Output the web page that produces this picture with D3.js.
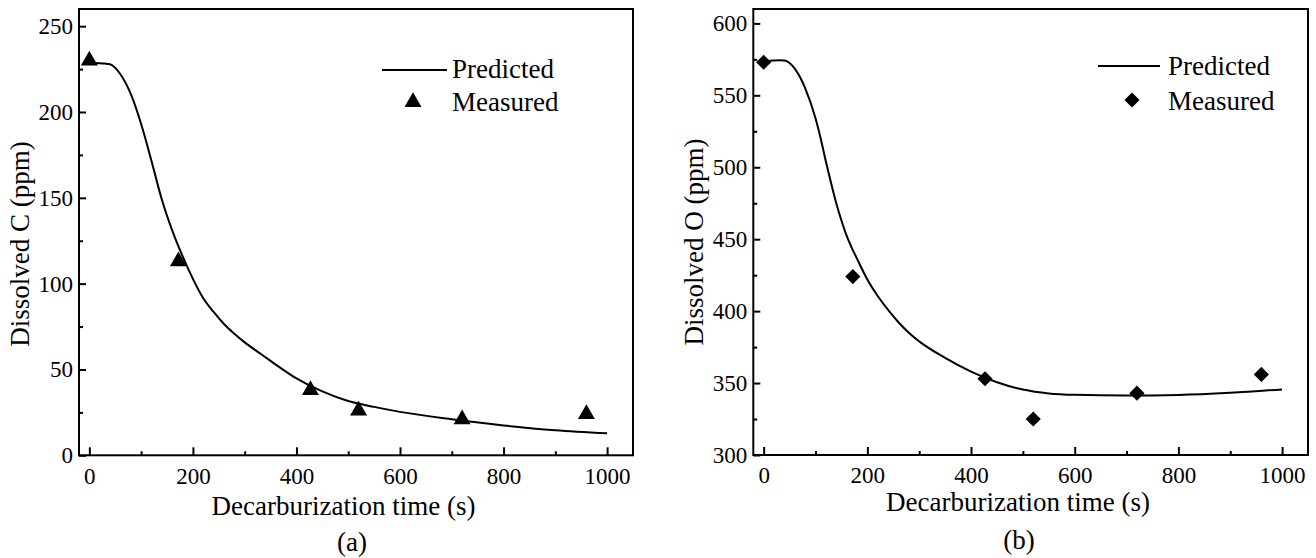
<!DOCTYPE html>
<html><head><meta charset="utf-8">
<script src="https://cdn.jsdelivr.net/npm/d3@7"></script>
<style>
body{margin:0;background:#fff;}
svg{display:block;}
svg text{font-family:"Liberation Serif","Times New Roman",Times,serif;fill:#000;}
</style>
</head><body>
<svg id="chart" width="1316" height="558"></svg>
<script>
// ---------- data ----------
const measuredTimes = [0, 172, 427, 520, 720, 960];
const measuredC = [230, 113, 38, 26, 21, 24];
const measuredO = [573, 424, 353, 325, 343, 356];
const predTimesC = [0,20,30,40,50,60,80,100,120,140,160,180,200,220,240,260,280,300,330,350,400,450,500,550,600,700,800,900,1000];
const predictedC = [228.5,228.4,228.2,227.8,225.7,222,210.5,193,171.5,149,131,116,102.8,91.5,83.5,76.5,70.8,65.8,59.3,55,44.8,37.2,31.6,28.2,25.3,21,17.4,14.6,12.8];
const predTimesO = [0,20,30,40,50,60,80,100,110,120,130,140,150,160,170,180,200,220,240,260,280,300,350,400,450,500,550,600,700,800,900,1000];
const predictedO = [573.5,574.2,574.4,574.2,572.5,568.5,555,534,520,504,489,475,463,452.5,444,436.5,422,410.5,400.8,392.3,385,379,367.5,358,350.6,345.5,342.8,341.8,341.3,341.7,343.2,345.6];
const xTicks = [0, 200, 400, 600, 800, 1000];
const xMinorTicks = [100, 300, 500, 700, 900];
const yTicksC = [0, 50, 100, 150, 200, 250];
const yMinorC = [25, 75, 125, 175, 225];
const yTicksO = [300, 350, 400, 450, 500, 550, 600];
const yMinorO = [325, 375, 425, 475, 525, 575];
const legendLabels = ["Predicted", "Measured"];
const panelLabels = ["(a)", "(b)"];
const yTitles = ["Dissolved C (ppm)", "Dissolved O (ppm)"];
const xTitle = "Decarburization time (s)";

// ---------- layout ----------
const panels = [
  {left:79, top:9, right:633, bottom:455.3, yDomain:[0,260], yTicks:yTicksC, yMinor:yMinorC,
   pt:predTimesC, pred:predictedC, meas:measuredC, marker:"triangle", yTitle:yTitles[0], label:panelLabels[0],
   yTitleX:29, yTitleY:244, xTitleX:343.5, xTitleY:515, labelX:352, labelY:551,
   legLine:[382,447,70], legText:[452,78,111], legMark:[413,102]},
  {left:753.3, top:9, right:1308, bottom:455, yDomain:[300,610], yTicks:yTicksO, yMinor:yMinorO,
   pt:predTimesO, pred:predictedO, meas:measuredO, marker:"diamond", yTitle:yTitles[1], label:panelLabels[1],
   yTitleX:703, yTitleY:242, xTitleX:1018, xTitleY:511, labelX:1019, labelY:549,
   legLine:[1098,1160,66], legText:[1168,75,110], legMark:[1132,100]}
];

const FONT = '"Liberation Serif","Times New Roman",Times,serif';
const svg = d3.select("#chart");

function markerPath(type){
  if(type==="triangle") return d3.symbol().type(d3.symbolTriangle).size(125)();
  return d3.symbol().type(d3.symbolSquare).size(115)();
}
function markerRot(type){ return type==="diamond" ? " rotate(45)" : ""; }

panels.forEach(p => {
  const x = d3.scaleLinear().domain([-20,1050]).range([p.left, p.right]);
  const y = d3.scaleLinear().domain(p.yDomain).range([p.bottom, p.top]);
  const g = svg.append("g");

  const xa = g.append("g").attr("transform",`translate(0,${p.bottom})`)
    .call(d3.axisBottom(x).tickValues(xTicks).tickSize(-8).tickPadding(12).tickFormat(d3.format("d")));
  xa.attr("font-family",FONT).attr("font-size",23);
  xa.select(".domain").remove();
  xa.selectAll("line").attr("stroke","#000").attr("stroke-width",2);
  const xm = g.append("g").attr("transform",`translate(0,${p.bottom})`)
    .call(d3.axisBottom(x).tickValues(xMinorTicks).tickSize(-4).tickFormat(""));
  xm.select(".domain").remove();
  xm.selectAll("line").attr("stroke","#000").attr("stroke-width",2);

  const ya = g.append("g").attr("transform",`translate(${p.left},0)`)
    .call(d3.axisLeft(y).tickValues(p.yTicks).tickSize(-7).tickPadding(6).tickFormat(d3.format("d")));
  ya.attr("font-family",FONT).attr("font-size",23);
  ya.select(".domain").remove();
  ya.selectAll("line").attr("stroke","#000").attr("stroke-width",2);
  const ym = g.append("g").attr("transform",`translate(${p.left},0)`)
    .call(d3.axisLeft(y).tickValues(p.yMinor).tickSize(-4).tickFormat(""));
  ym.select(".domain").remove();
  ym.selectAll("line").attr("stroke","#000").attr("stroke-width",2);

  g.append("rect").attr("x",p.left).attr("y",p.top)
    .attr("width",p.right-p.left).attr("height",p.bottom-p.top)
    .attr("fill","none").attr("stroke","#000").attr("stroke-width",2);

  const line = d3.line().x((d,i)=>x(p.pt[i])).y(d=>y(d)).curve(d3.curveMonotoneX);
  g.append("path").datum(p.pred).attr("d",line)
    .attr("fill","none").attr("stroke","#000").attr("stroke-width",2);

  g.selectAll(".m").data(p.meas).join("path")
    .attr("d",markerPath(p.marker))
    .attr("transform",(d,i)=>`translate(${x(measuredTimes[i])},${y(d)})${markerRot(p.marker)}`)
    .attr("fill","#000");

  const tg = g.append("g").attr("font-family",FONT).attr("font-size",27);
  g.append("line").attr("x1",p.legLine[0]).attr("x2",p.legLine[1])
    .attr("y1",p.legLine[2]).attr("y2",p.legLine[2]).attr("stroke","#000").attr("stroke-width",2);
  tg.append("text").attr("x",p.legText[0]).attr("y",p.legText[1]).text(legendLabels[0]);
  g.append("path").attr("d",markerPath(p.marker))
    .attr("transform",`translate(${p.legMark[0]},${p.legMark[1]})${markerRot(p.marker)}`).attr("fill","#000");
  tg.append("text").attr("x",p.legText[0]).attr("y",p.legText[2]).text(legendLabels[1]);

  tg.append("text").attr("x",p.xTitleX).attr("y",p.xTitleY).attr("text-anchor","middle").text(xTitle);
  tg.append("text").attr("transform",`translate(${p.yTitleX},${p.yTitleY}) rotate(-90)`)
    .attr("text-anchor","middle").text(p.yTitle);
  tg.append("text").attr("x",p.labelX).attr("y",p.labelY).attr("text-anchor","middle").text(p.label);
});
</script>
</body></html>
